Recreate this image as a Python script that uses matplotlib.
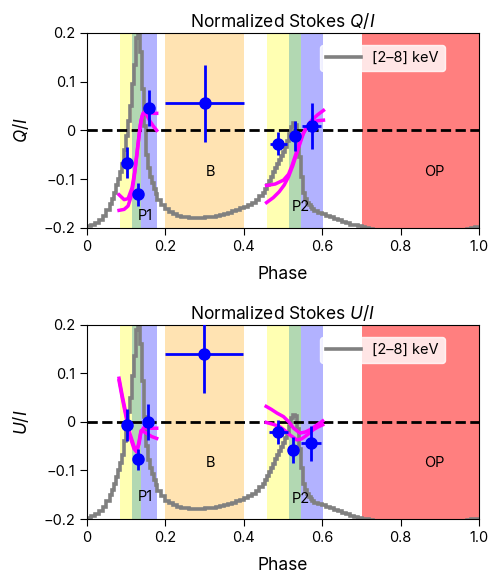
import numpy as np
import matplotlib
matplotlib.use("Agg")
import matplotlib.pyplot as plt

plt.rcParams['font.family'] = ['Inter', 'DejaVu Sans']
plt.rcParams['mathtext.fontset'] = 'custom'
plt.rcParams['mathtext.rm'] = 'Inter'
plt.rcParams['mathtext.it'] = 'Inter:italic'

# ---- light curve (scaled to plot units) ----
lc_edges = np.round(np.concatenate([
    np.arange(0.0, 0.06, 0.01),
    np.arange(0.06, 0.18, 0.005),
    np.arange(0.18, 0.45, 0.01),
    np.arange(0.45, 0.58, 0.005),
    np.arange(0.58, 1.0001, 0.01),
]), 4)
lc_vals = [
    # 0.00 - 0.06
    -0.197, -0.193, -0.189, -0.184, -0.176, -0.163,
    # 0.06 - 0.18 (0.005 bins)
    -0.150, -0.140, -0.128, -0.113, -0.100, -0.085, -0.068, -0.040, -0.012, 0.020,
    0.050, 0.095, 0.135, 0.190, 0.300, 0.160, 0.085, 0.010, -0.050, -0.078,
    -0.095, -0.108, -0.120, -0.130,
    # 0.18 - 0.45
    -0.142, -0.153, -0.162, -0.168, -0.172, -0.175, -0.177, -0.178, -0.179, -0.179,
    -0.179, -0.179, -0.178, -0.178, -0.177, -0.175, -0.173, -0.171, -0.169, -0.166,
    -0.163, -0.160, -0.157, -0.153, -0.148, -0.142, -0.135,
    # 0.45 - 0.58 (0.005 bins)
    -0.128, -0.120, -0.112, -0.104, -0.095, -0.086, -0.077, -0.068, -0.060, -0.052,
    -0.044, -0.034, -0.022, -0.008, 0.008, 0.015, 0.012, -0.015, -0.055, -0.095,
    -0.128, -0.140, -0.148, -0.154, -0.158, -0.162,
    # 0.58 - 1.00
    -0.166, -0.169, -0.172, -0.175, -0.178, -0.181, -0.184, -0.187, -0.190, -0.193,
    -0.195, -0.197, -0.199, -0.201, -0.203, -0.205, -0.205, -0.205, -0.205, -0.205,
    -0.205, -0.205, -0.205, -0.205, -0.205, -0.205, -0.205, -0.205, -0.205, -0.205,
    -0.205, -0.205, -0.205, -0.205, -0.205, -0.205, -0.205, -0.205, -0.204, -0.203,
    -0.201, -0.199,
]

# ---- phase regions ----
regions = [
    (0.084, 0.116, 'yellow', 0.3),
    (0.116, 0.139, 'green', 0.3),
    (0.139, 0.178, 'blue', 0.3),
    (0.200, 0.400, 'orange', 0.3),
    (0.458, 0.514, 'yellow', 0.3),
    (0.514, 0.545, 'green', 0.3),
    (0.545, 0.603, 'blue', 0.3),
    (0.700, 1.000, 'red', 0.5),
]

# ---- data points ----
q_x = [0.102, 0.131, 0.158, 0.300, 0.488, 0.531, 0.573]
q_xerr = [0.004, 0.004, 0.004, 0.100, 0.021, 0.004, 0.025]
q_y = [-0.066, -0.131, 0.046, 0.056, -0.027, -0.011, 0.009]
q_yerr = [0.031, 0.024, 0.037, 0.079, 0.024, 0.031, 0.047]

u_x = [0.102, 0.131, 0.156, 0.299, 0.488, 0.526, 0.571]
u_xerr = [0.004, 0.004, 0.004, 0.100, 0.024, 0.004, 0.026]
u_y = [-0.006, -0.077, -0.001, 0.140, -0.021, -0.058, -0.044]
u_yerr = [0.033, 0.021, 0.037, 0.080, 0.025, 0.026, 0.036]

# ---- model curves ----
q_p1a_x = [0.082, 0.095, 0.105, 0.115, 0.122, 0.128, 0.133, 0.138, 0.143, 0.150, 0.160, 0.170, 0.178]
q_p1a_y = [-0.132, -0.142, -0.140, -0.118, -0.085, -0.045, -0.010, 0.020, 0.035, 0.036, 0.020, 0.008, 0.000]
q_p1b_x = [0.082, 0.095, 0.105, 0.113, 0.120, 0.126, 0.131, 0.136, 0.141, 0.148, 0.160, 0.170, 0.178]
q_p1b_y = [-0.164, -0.162, -0.155, -0.135, -0.100, -0.060, -0.025, 0.010, 0.030, 0.038, 0.036, 0.035, 0.035]
q_p2a_x = [0.458, 0.480, 0.501, 0.514, 0.522, 0.530, 0.539, 0.548, 0.556, 0.566, 0.577, 0.590, 0.603]
q_p2a_y = [-0.113, -0.110, -0.102, -0.090, -0.074, -0.055, -0.033, -0.012, 0.001, 0.011, 0.018, 0.020, 0.021]
q_p2b_x = [0.458, 0.475, 0.490, 0.503, 0.514, 0.525, 0.535, 0.544, 0.552, 0.562, 0.573, 0.588, 0.603]
q_p2b_y = [-0.148, -0.138, -0.126, -0.112, -0.095, -0.072, -0.047, -0.025, -0.006, 0.008, 0.021, 0.032, 0.041]

u_p1a_x = [0.082, 0.090, 0.100, 0.110, 0.120, 0.127, 0.133, 0.138, 0.145, 0.155, 0.165, 0.178]
u_p1a_y = [0.090, 0.055, 0.015, -0.025, -0.050, -0.060, -0.045, -0.020, -0.012, -0.012, -0.013, -0.013]
u_p1b_x = [0.082, 0.090, 0.100, 0.110, 0.120, 0.127, 0.133, 0.138, 0.145, 0.155, 0.165, 0.178]
u_p1b_y = [0.085, 0.050, 0.010, -0.030, -0.055, -0.062, -0.040, -0.018, -0.020, -0.025, -0.030, -0.034]
u_p2a_x = [0.457, 0.470, 0.485, 0.501, 0.515, 0.527, 0.543, 0.556, 0.569, 0.585, 0.601]
u_p2a_y = [0.032, 0.026, 0.018, 0.011, 0.000, -0.013, -0.023, -0.021, -0.016, -0.007, 0.002]
u_p2b_x = [0.457, 0.475, 0.492, 0.505, 0.518, 0.535, 0.547, 0.556, 0.566, 0.577, 0.590, 0.601]
u_p2b_y = [-0.001, -0.005, -0.010, -0.018, -0.027, -0.037, -0.035, -0.030, -0.024, -0.016, -0.010, -0.006]

x_ticks = [0, 0.2, 0.4, 0.6, 0.8, 1.0]
x_ticklabels = ['0', '0.2', '0.4', '0.6', '0.8', '1.0']
y_ticks = [-0.2, -0.1, 0, 0.1, 0.2]
y_ticklabels = ['\u22120.2', '\u22120.1', '0', '0.1', '0.2']

fig = plt.figure(figsize=(4.88, 5.77), dpi=100)
ax1 = fig.add_axes([0.178, 0.605, 0.804, 0.338])
ax2 = fig.add_axes([0.178, 0.1005, 0.804, 0.3365])


def draw(ax, px, pxe, py, pye, curves, name, p1y):
    for (a, b, c, al) in regions:
        ax.axvspan(a, b, color=c, alpha=al, lw=0, zorder=0)
    ax.stairs(lc_vals, lc_edges, color='gray', lw=2.6, zorder=2,
              baseline=None, label='[2\u20138] keV')
    ax.axhline(0, color='black', ls='--', lw=2, zorder=3)
    for cx, cy in curves:
        ax.plot(cx, cy, color='magenta', lw=2.5, zorder=4)
    ax.errorbar(px, py, xerr=pxe, yerr=pye, fmt='o', color='blue', ms=8,
                elinewidth=2, capsize=0, zorder=5)
    ax.text(0.148, p1y, 'P1', ha='center', va='center', fontsize=10.5)
    ax.text(0.316, -0.085, 'B', ha='center', va='center', fontsize=10.5)
    ax.text(0.546, -0.158, 'P2', ha='center', va='center', fontsize=10.5)
    ax.text(0.885, -0.085, 'OP', ha='center', va='center', fontsize=10.5)
    ax.set_xlim(0, 1)
    ax.set_ylim(-0.2, 0.2)
    ax.set_xticks(x_ticks)
    ax.set_xticklabels(x_ticklabels)
    ax.set_yticks(y_ticks)
    ax.set_yticklabels(y_ticklabels)
    ax.tick_params(labelsize=10.5, length=5)
    ax.set_xlabel('Phase', fontsize=12.5, labelpad=9)
    ax.set_ylabel('$' + name + '$', fontsize=12.5, labelpad=9)
    ax.set_title('Normalized Stokes $' + name + '$', fontsize=12.5, pad=4)
    ax.legend(loc='upper left', bbox_to_anchor=(0.575, 0.975), fontsize=10.5,
              framealpha=0.8, edgecolor='white', handlelength=2.4)


draw(ax1, q_x, q_xerr, q_y, q_yerr,
     [(q_p1a_x, q_p1a_y), (q_p1b_x, q_p1b_y), (q_p2a_x, q_p2a_y), (q_p2b_x, q_p2b_y)],
     'Q/I', -0.175)
draw(ax2, u_x, u_xerr, u_y, u_yerr,
     [(u_p1a_x, u_p1a_y), (u_p1b_x, u_p1b_y), (u_p2a_x, u_p2a_y), (u_p2b_x, u_p2b_y)],
     'U/I', -0.155)

fig.savefig('out.png', dpi=100)
